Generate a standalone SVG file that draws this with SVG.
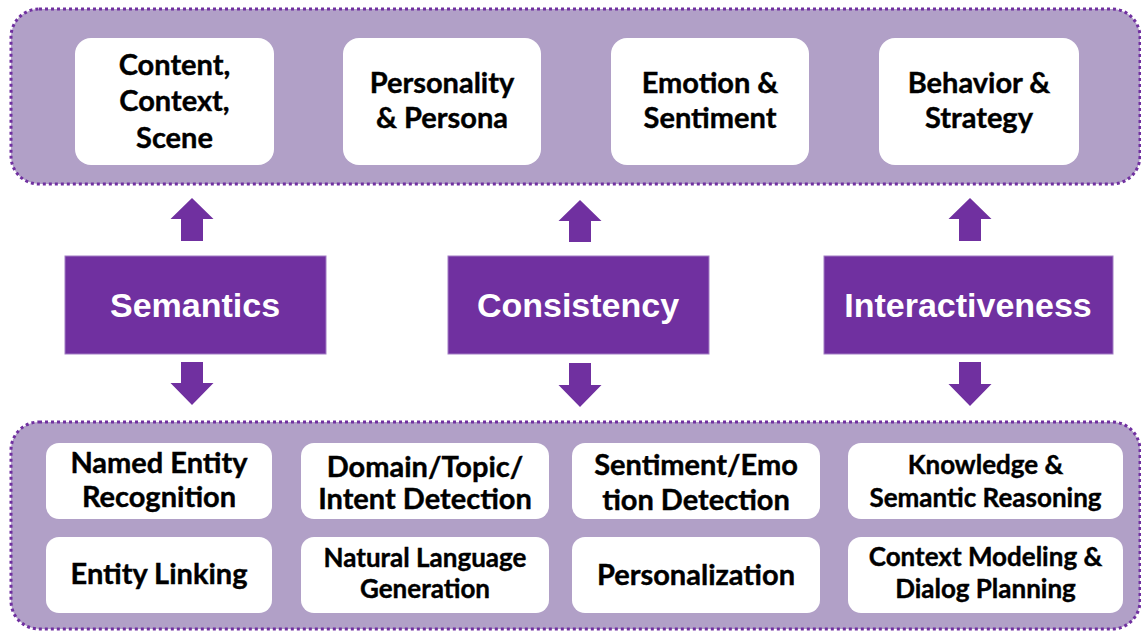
<svg xmlns="http://www.w3.org/2000/svg" width="1141" height="632" viewBox="0 0 1141 632">
<style>
.cont{fill:#B1A0C7;stroke:#7030A0;stroke-width:3;stroke-dasharray:3 3}
.wb{fill:#FFFFFF}
.pb{fill:#7030A0;stroke:#A27DC4;stroke-width:1}
.arr{fill:#7030A0}
.t{font-family:Lato,"Liberation Sans",sans-serif;font-weight:bold;fill:#000;text-anchor:middle;font-size:29px;stroke:#000;stroke-width:0.4}
.s{font-size:26px}
.pt{font-family:"Liberation Sans",Arial,sans-serif;font-weight:bold;fill:#FFFFFF;text-anchor:middle;font-size:34px}
</style>
<g id="top-container"><rect class="cont" x="11" y="9" width="1129" height="175" rx="28"/></g>
<g id="bottom-container"><rect class="cont" x="11" y="422" width="1129" height="207" rx="28"/></g>

<g id="n-content"><rect class="wb" x="75" y="38" width="199" height="127" rx="16"/>
<text class="t" x="174.5" y="75">Content,</text><text class="t" x="174.5" y="111">Context,</text><text class="t" x="174.5" y="148">Scene</text></g>
<g id="n-personality"><rect class="wb" x="343" y="38" width="198" height="127" rx="16"/>
<text class="t" x="442" y="93">Personality</text><text class="t" x="442" y="128">&amp; Persona</text></g>
<g id="n-emotion"><rect class="wb" x="611" y="38" width="198" height="127" rx="16"/>
<text class="t" x="710" y="93">Emotion &amp;</text><text class="t" x="710" y="128">Sentiment</text></g>
<g id="n-behavior"><rect class="wb" x="879" y="38" width="200" height="127" rx="16"/>
<text class="t" x="979" y="93">Behavior &amp;</text><text class="t" x="979" y="128">Strategy</text></g>

<g id="n-semantics"><rect class="pb" x="65" y="256" width="261" height="98"/><text class="pt" x="195" y="317">Semantics</text></g>
<g id="n-consistency"><rect class="pb" x="448" y="256" width="261" height="98"/><text class="pt" x="578" y="317">Consistency</text></g>
<g id="n-interactiveness"><rect class="pb" x="824" y="256" width="289" height="98"/><text class="pt" x="968" y="317">Interactiveness</text></g>

<g id="connectors">
<polygon class="arr" points="192,198 213.5,219 203,219 203,241 181,241 181,219 170.5,219"/>
<polygon class="arr" points="580,200 601.5,221 591,221 591,242 569,242 569,221 558.5,221"/>
<polygon class="arr" points="970,198 991.5,219 981,219 981,241 959,241 959,219 948.5,219"/>
<polygon class="arr" points="181,362 203,362 203,383 213.5,383 192,405 170.5,383 181,383"/>
<polygon class="arr" points="569,363 591,363 591,385 601.5,385 580,407 558.5,385 569,385"/>
<polygon class="arr" points="959,362 981,362 981,384 991.5,384 970,406 948.5,384 959,384"/>
</g>

<g id="n-ner"><rect class="wb" x="46" y="443" width="226" height="76" rx="13"/>
<text class="t" x="159" y="473">Named Entity</text><text class="t" x="159" y="507">Recognition</text></g>
<g id="n-el"><rect class="wb" x="46" y="537" width="226" height="76" rx="13"/>
<text class="t" x="159" y="584">Entity Linking</text></g>
<g id="n-domain"><rect class="wb" x="301" y="443" width="248" height="76" rx="13"/>
<text class="t" x="425" y="477">Domain/Topic/</text><text class="t" x="425" y="509">Intent Detection</text></g>
<g id="n-nlg"><rect class="wb" x="301" y="537" width="248" height="76" rx="13"/>
<text class="t s" x="425" y="567">Natural Language</text><text class="t s" x="425" y="598">Generation</text></g>
<g id="n-sentiment"><rect class="wb" x="572" y="443" width="248" height="76" rx="13"/>
<text class="t" x="696" y="475">Sentiment/Emo</text><text class="t" x="696" y="510">tion Detection</text></g>
<g id="n-personalization"><rect class="wb" x="572" y="537" width="248" height="76" rx="13"/>
<text class="t" x="696" y="585">Personalization</text></g>
<g id="n-knowledge"><rect class="wb" x="848" y="443" width="275" height="76" rx="13"/>
<text class="t s" x="985.5" y="474">Knowledge &amp;</text><text class="t s" x="985.5" y="507">Semantic Reasoning</text></g>
<g id="n-context"><rect class="wb" x="848" y="537" width="275" height="76" rx="13"/>
<text class="t s" x="985.5" y="566">Context Modeling &amp;</text><text class="t s" x="985.5" y="598">Dialog Planning</text></g>
</svg>
